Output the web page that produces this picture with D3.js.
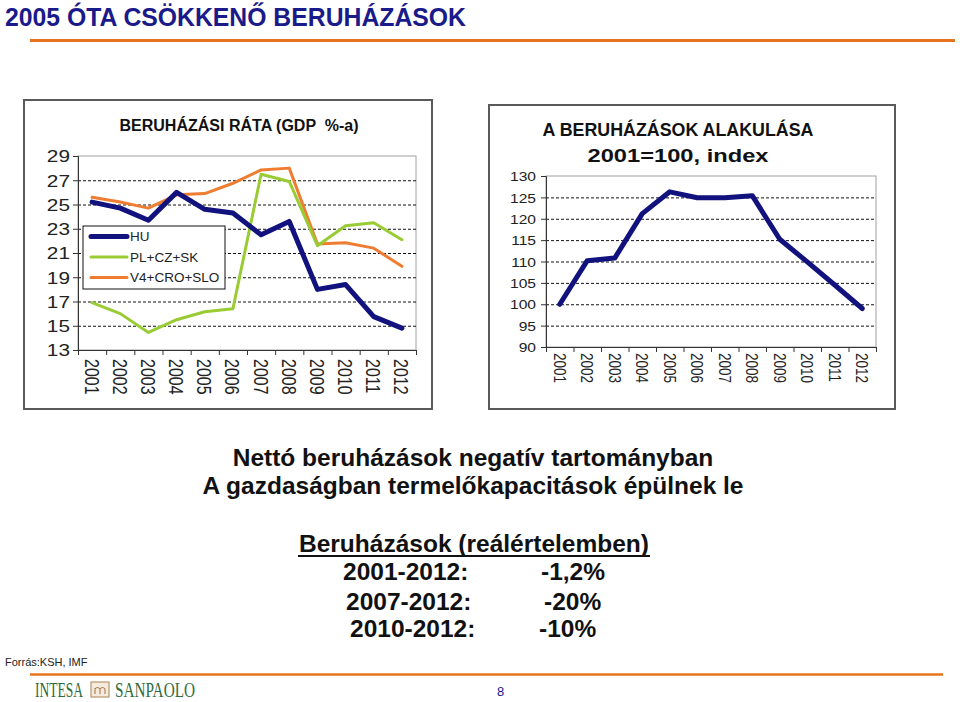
<!DOCTYPE html>
<html><head><meta charset="utf-8">
<script src="https://cdn.jsdelivr.net/npm/d3@7"></script>
<style>
body{margin:0;background:#fff}
svg{display:block}
</style>
</head><body>
<svg id="c" width="960" height="702" font-family="Liberation Sans, Arial, Helvetica, sans-serif"></svg>
<script>
// ---------- DATA ----------
const years = ["2001","2002","2003","2004","2005","2006","2007","2008","2009","2010","2011","2012"];
const seriesNames = ["HU","PL+CZ+SK","V4+CRO+SLO"];
const rateHU      = [25.2, 24.7, 23.7, 26.0, 24.6, 24.3, 22.5, 23.6, 18.0, 18.4, 15.75, 14.8];
const ratePLCZSK  = [16.9, 16.0, 14.45, 15.5, 16.15, 16.4, 27.5, 26.9, 21.6, 23.25, 23.5, 22.1];
const rateV4      = [25.6, 25.2, 24.7, 25.8, 25.9, 26.75, 27.85, 28.0, 21.75, 21.85, 21.4, 19.9];
const rateTicks   = [13,15,17,19,21,23,25,27,29];
const indexHU     = [100, 110.2, 110.8, 121.2, 126.3, 124.9, 124.9, 125.4, 115.2, 109.9, 104.5, 99.0];
const indexTicks  = [90,95,100,105,110,115,120,125,130];
const pageTitle = "2005 ÓTA CSÖKKENŐ BERUHÁZÁSOK";
const leftTitle = "BERUHÁZÁSI RÁTA (GDP  %-a)";
const rightTitle = ["A BERUHÁZÁSOK ALAKULÁSA","2001=100, index"];
const bodyLines = ["Nettó beruházások negatív tartományban","A gazdaságban termelőkapacitások épülnek le"];
const tableHead = "Beruházások (reálértelemben)";
const tablePeriods = ["2001-2012:","2007-2012:","2010-2012:"];
const tableValues = ["-1,2%","-20%","-10%"];
const source = "Forrás:KSH, IMF";

// ---------- STYLE ----------
const NAVY = "#12127e", GREEN = "#99cc33", ORANGE = "#ef7d31", LINE_OR = "#e8731f";
const SANS = "Liberation Sans, Arial, Helvetica, sans-serif";
const SERIF = "Liberation Serif, DejaVu Serif, Times New Roman, serif";
const svg = d3.select("#c");

function fit(sel, w){ sel.attr("textLength", w).attr("lengthAdjust","spacingAndGlyphs"); return sel; }

// page title + rules
fit(svg.append("text").attr("x",5).attr("y",26).attr("font-size",25.5).attr("font-weight","bold")
  .attr("fill","#1a1a8a").text(pageTitle), 461);
svg.append("line").attr("x1",30).attr("x2",955).attr("y1",40.5).attr("y2",40.5)
  .attr("stroke",LINE_OR).attr("stroke-width",3);
svg.append("line").attr("x1",30).attr("x2",943).attr("y1",674.5).attr("y2",674.5)
  .attr("stroke",LINE_OR).attr("stroke-width",2.5);

// ---------- generic chart ----------
function chart(o){
  const g = svg.append("g");
  g.append("rect").attr("x",o.box[0]).attr("y",o.box[1]).attr("width",o.box[2]-o.box[0]).attr("height",o.box[3]-o.box[1])
    .attr("fill","#fff").attr("stroke","#5a5a5a").attr("stroke-width",2);
  const x = d3.scaleBand().domain(years).range([o.px0,o.px1]);
  const xb = d3.scaleLinear().domain([0,years.length]).range([o.px0,o.px1]);
  const y = d3.scaleLinear().domain([o.ticks[0],o.ticks[o.ticks.length-1]]).range([o.py0,o.py1]);
  // plot frame
  g.append("rect").attr("x",o.px0).attr("y",o.py1).attr("width",o.px1-o.px0).attr("height",o.py0-o.py1)
    .attr("fill","#fff").attr("stroke","#a0a0a0").attr("stroke-width",1);
  // grid
  const grid = g.append("g").attr("transform",`translate(${o.px0},0)`)
    .call(d3.axisLeft(y).tickValues(o.ticks.slice(1,-1)).tickSize(-(o.px1-o.px0)).tickFormat(""));
  grid.select(".domain").remove();
  grid.selectAll("line").attr("stroke","#111").attr("stroke-width",1).attr("stroke-dasharray","3,2");
  // y axis
  const ya = g.append("g").attr("transform",`translate(${o.px0},0)`)
    .call(d3.axisLeft(y).tickValues(o.ticks).tickSize(5));
  ya.select(".domain").attr("stroke","#333");
  ya.selectAll("line").attr("stroke","#333");
  ya.selectAll("text").attr("x",0).attr("dy","0.36em").attr("fill","#222").attr("font-size",o.yfs)
    .attr("font-family",SANS)
    .attr("transform",`translate(${o.yoff},0) scale(${o.ysx},1)`);
  // x axis boundary ticks
  const xt = g.append("g").attr("transform",`translate(0,${o.py0})`)
    .call(d3.axisBottom(xb).ticks(years.length).tickSize(5).tickFormat(""));
  xt.select(".domain").attr("stroke","#333");
  xt.selectAll("line").attr("stroke","#333");
  // x labels
  const xl = g.append("g").attr("transform",`translate(0,${o.py0})`)
    .call(d3.axisBottom(x).tickSize(0));
  xl.select(".domain").remove();
  xl.selectAll("text").attr("x",0).attr("y",0).attr("dy","0.36em").attr("fill","#222")
    .attr("font-size",o.xfs).attr("font-family",SANS)
    .style("text-anchor","start")
    .attr("transform",`translate(0,${o.xoff}) scale(${o.xsx},1) rotate(90)`);
  // title
  o.title.forEach((t,i)=>{
    fit(g.append("text").attr("x",o.tx).attr("y",o.ty[i]).attr("text-anchor","middle")
      .attr("font-size",o.tfs).attr("font-weight","bold").attr("fill","#111")
      .style("white-space","pre").attr("xml:space","preserve").text(t), o.tw[i]);
  });
  // lines
  const line = d3.line().x((d,i)=>x(years[i])+x.bandwidth()/2).y(d=>y(d)).curve(d3.curveLinear);
  o.series.forEach(s=>{
    g.append("path").datum(s.values).attr("d",line).attr("fill","none")
      .attr("stroke",s.color).attr("stroke-width",s.w).attr("stroke-linejoin","round").attr("stroke-linecap","round");
  });
  return g;
}

const leftSeries = [
  {name:seriesNames[2], values:rateV4, color:ORANGE, w:3},
  {name:seriesNames[1], values:ratePLCZSK, color:GREEN, w:3},
  {name:seriesNames[0], values:rateHU, color:NAVY, w:5}
];
const gl = chart({box:[24,100,432,409], px0:78, px1:416, py0:350, py1:156, ticks:rateTicks,
  yfs:16, ysx:1.3, yoff:-8, xfs:16, xsx:1.3, xoff:9,
  title:[leftTitle], tx:239, ty:[131], tfs:16, tw:[239],
  series:leftSeries});

// legend
const lg = gl.append("g");
lg.append("rect").attr("x",83).attr("y",226).attr("width",142).attr("height",63)
  .attr("fill","#fff").attr("stroke","#111").attr("stroke-width",1);
const legendItems = [
  {name:seriesNames[0], color:NAVY, w:5},
  {name:seriesNames[1], color:GREEN, w:3},
  {name:seriesNames[2], color:ORANGE, w:3}
];
const ly = d3.scalePoint().domain(seriesNames).range([236.5,277.5]);
legendItems.forEach(it=>{
  lg.append("line").attr("x1",91).attr("x2",127).attr("y1",ly(it.name)).attr("y2",ly(it.name))
    .attr("stroke",it.color).attr("stroke-width",it.w).attr("stroke-linecap","round");
  lg.append("text").attr("x",130).attr("y",ly(it.name)).attr("dy","0.36em").attr("font-size",13.5)
    .attr("fill","#222").text(it.name);
});

chart({box:[489,105,895,409], px0:546, px1:876, py0:347, py1:176, ticks:indexTicks,
  yfs:13, ysx:1.2, yoff:-10, xfs:13.5, xsx:1.25, xoff:6,
  title:rightTitle, tx:678, ty:[136,162], tfs:17.5, tw:[271,181],
  series:[{name:seriesNames[0], values:indexHU, color:NAVY, w:5}]});

// body text
const cx = 473;
const bl = [466,494];
bodyLines.forEach((t,i)=>{
  svg.append("text").attr("x",cx).attr("y",bl[i]).attr("text-anchor","middle")
    .attr("font-size",24.5).attr("font-weight","bold").attr("fill","#111").text(t);
});
svg.append("text").attr("x",474).attr("y",552).attr("text-anchor","middle")
  .attr("font-size",24.5).attr("font-weight","bold").attr("fill","#111").text(tableHead);
svg.append("line").attr("x1",298).attr("x2",650).attr("y1",556).attr("y2",556).attr("stroke","#111").attr("stroke-width",2);
const rowY = [580,610,637];
const pX = [343,346,350];
const vX = [541,544,539];
tablePeriods.forEach((t,i)=>{
  svg.append("text").attr("x",pX[i]).attr("y",rowY[i]).attr("font-size",24.5).attr("font-weight","bold").attr("fill","#111").text(t);
  svg.append("text").attr("x",vX[i]).attr("y",rowY[i]).attr("font-size",24.5).attr("font-weight","bold").attr("fill","#111").text(tableValues[i]);
});

// footer
svg.append("text").attr("x",5).attr("y",666).attr("font-size",11).attr("fill","#222").text(source);
const logoC = "#2f6b3b";
fit(svg.append("text").attr("x",35).attr("y",697).attr("font-size",21).attr("font-family",SERIF)
  .attr("fill",logoC).text("INTESA"), 48);
svg.append("rect").attr("x",91).attr("y",682).attr("width",18).attr("height",15).attr("fill","#f5ebdd").attr("stroke","#b8946a").attr("stroke-width",1.2);
// small "m" emblem drawn as a path
svg.append("path").attr("d","M95,694 V688 M95,689 Q97.5,686 100,689 V694 M100,689 Q102.5,686 105,689 V694")
  .attr("fill","none").attr("stroke","#a67c52").attr("stroke-width",1.1);
fit(svg.append("text").attr("x",115).attr("y",697).attr("font-size",21).attr("font-family",SERIF)
  .attr("fill",logoC).text("SANPAOLO"), 80);
svg.append("text").attr("x",497).attr("y",696).attr("font-size",13).attr("fill","#1a1a8a").text("8");
</script>
</body></html>
